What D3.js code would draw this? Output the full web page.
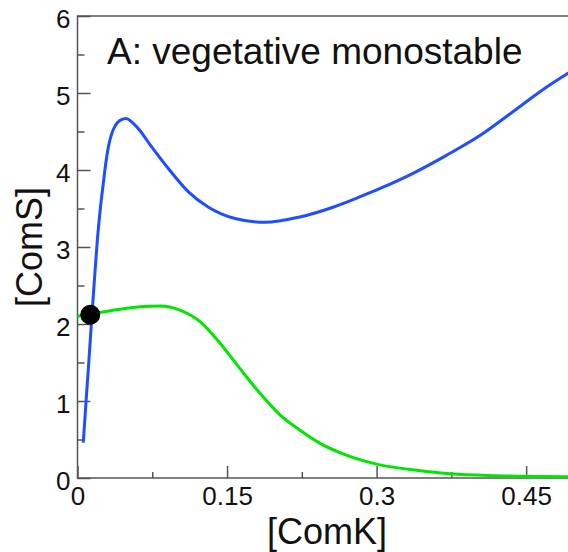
<!DOCTYPE html>
<html>
<head>
<meta charset="utf-8">
<script src="https://cdn.jsdelivr.net/npm/d3@7"></script>
<style>
  html, body { margin: 0; padding: 0; background: #fff; }
  svg { display: block; font-family: "Liberation Sans", Arial, Helvetica, sans-serif; }
  .axis path { display: none; }
  .axis line { stroke: #555; stroke-width: 1.5; }
  .axis text { fill: #111; font-size: 26px; }
</style>
</head>
<body>
<div id="chart"></div>
<script>
// curve values: [ComK] and [ComS]
const blueComK = [0.0058, 0.0086, 0.0113, 0.0145, 0.0171, 0.0199, 0.0229, 0.0259, 0.0285, 0.031,
                  0.034, 0.0376, 0.042, 0.0484, 0.0594, 0.0744, 0.0911, 0.111, 0.131, 0.158,
                  0.188, 0.223, 0.257, 0.283, 0.3035, 0.337, 0.370, 0.404, 0.437, 0.471, 0.5];
const blueComS = [0.46, 1.0, 1.5, 2.12, 2.6, 3.09, 3.50, 3.83, 4.10, 4.30,
                  4.46, 4.57, 4.64, 4.67, 4.56, 4.30, 4.02, 3.72, 3.52, 3.37,
                  3.32, 3.39, 3.52, 3.65, 3.76, 3.96, 4.19, 4.45, 4.76, 5.08, 5.32];

const greenComK = [0, 0.0226, 0.0477, 0.0627, 0.0828, 0.1028, 0.1229, 0.143, 0.163, 0.183,
                   0.203, 0.2232, 0.2433, 0.265, 0.30, 0.344, 0.374, 0.42, 0.46, 0.5];
const greenComS = [2.10, 2.15, 2.20, 2.225, 2.234, 2.18, 2.03, 1.75, 1.42, 1.10,
                   0.82, 0.62, 0.45, 0.32, 0.18, 0.095, 0.055, 0.03, 0.02, 0.015];

// the fixed point marked with a black dot
const fixedPoint = [0.0128, 2.12];

const xTicks = [0, 0.15, 0.3, 0.45];
const xMinorTicks = [0.075, 0.225, 0.375];
const yTicks = [0, 1, 2, 3, 4, 5, 6];
const yMinorTicks = [0.5, 1.5, 2.5, 3.5, 4.5, 5.5];

const titleText = 'A: vegetative monostable';
const xLabel = '[ComK]';
const yLabel = '[ComS]';

const W = 568, H = 552;
const plot = { left: 77.5, right: 576, top: 16, bottom: 478 };

const svg = d3.select('#chart').append('svg')
    .attr('width', W)
    .attr('height', H);

const x = d3.scaleLinear().domain([0, 0.5]).range([plot.left, plot.right]);
const y = d3.scaleLinear().domain([0, 6]).range([plot.bottom, plot.top]);

// ticks point inward
svg.append('g')
    .attr('class', 'axis')
    .attr('transform', 'translate(' + plot.left + ',0)')
    .call(d3.axisLeft(y).tickValues(yTicks).tickSizeInner(-13).tickSizeOuter(0).tickPadding(7)
        .tickFormat(d3.format('d')))
    .selectAll('text').attr('dy', '0.45em');

svg.append('g')
    .attr('class', 'axis')
    .attr('transform', 'translate(' + plot.left + ',0)')
    .call(d3.axisLeft(y).tickValues(yMinorTicks).tickSizeInner(-7).tickSizeOuter(0).tickFormat(''));

svg.append('g')
    .attr('class', 'axis')
    .attr('transform', 'translate(0,' + plot.bottom + ')')
    .call(d3.axisBottom(x).tickValues(xTicks).tickSizeInner(-12).tickSizeOuter(0).tickPadding(9)
        .tickFormat(function (d) { return d === 0 ? '0' : String(d); }));

svg.append('g')
    .attr('class', 'axis')
    .attr('transform', 'translate(0,' + plot.bottom + ')')
    .call(d3.axisBottom(x).tickValues(xMinorTicks).tickSizeInner(-6).tickSizeOuter(0).tickFormat(''));

// frame
svg.append('rect')
    .attr('x', plot.left)
    .attr('y', plot.top)
    .attr('width', plot.right - plot.left)
    .attr('height', plot.bottom - plot.top)
    .attr('fill', 'none')
    .attr('stroke', '#555')
    .attr('stroke-width', 1.5);

const line = d3.line()
    .x(function (d) { return x(d[0]); })
    .y(function (d) { return y(d[1]); })
    .curve(d3.curveMonotoneX);

svg.append('path')
    .datum(d3.zip(greenComK, greenComS))
    .attr('d', line)
    .attr('fill', 'none')
    .attr('stroke', '#00e600')
    .attr('stroke-width', 3);

svg.append('path')
    .datum(d3.zip(blueComK, blueComS))
    .attr('d', line)
    .attr('fill', 'none')
    .attr('stroke', '#1f4dff')
    .attr('stroke-width', 3);

svg.append('circle')
    .attr('cx', x(fixedPoint[0]))
    .attr('cy', y(fixedPoint[1]))
    .attr('r', 10)
    .attr('fill', '#000');

// title and axis labels
svg.append('text')
    .attr('x', 107)
    .attr('y', 64)
    .attr('font-size', 37)
    .attr('fill', '#111')
    .text(titleText);

svg.append('text')
    .attr('x', 327)
    .attr('y', 544)
    .attr('text-anchor', 'middle')
    .attr('font-size', 36)
    .attr('fill', '#111')
    .text(xLabel);

svg.append('text')
    .attr('transform', 'translate(42,247) rotate(-90)')
    .attr('text-anchor', 'middle')
    .attr('font-size', 36)
    .attr('fill', '#111')
    .text(yLabel);
</script>
</body>
</html>
